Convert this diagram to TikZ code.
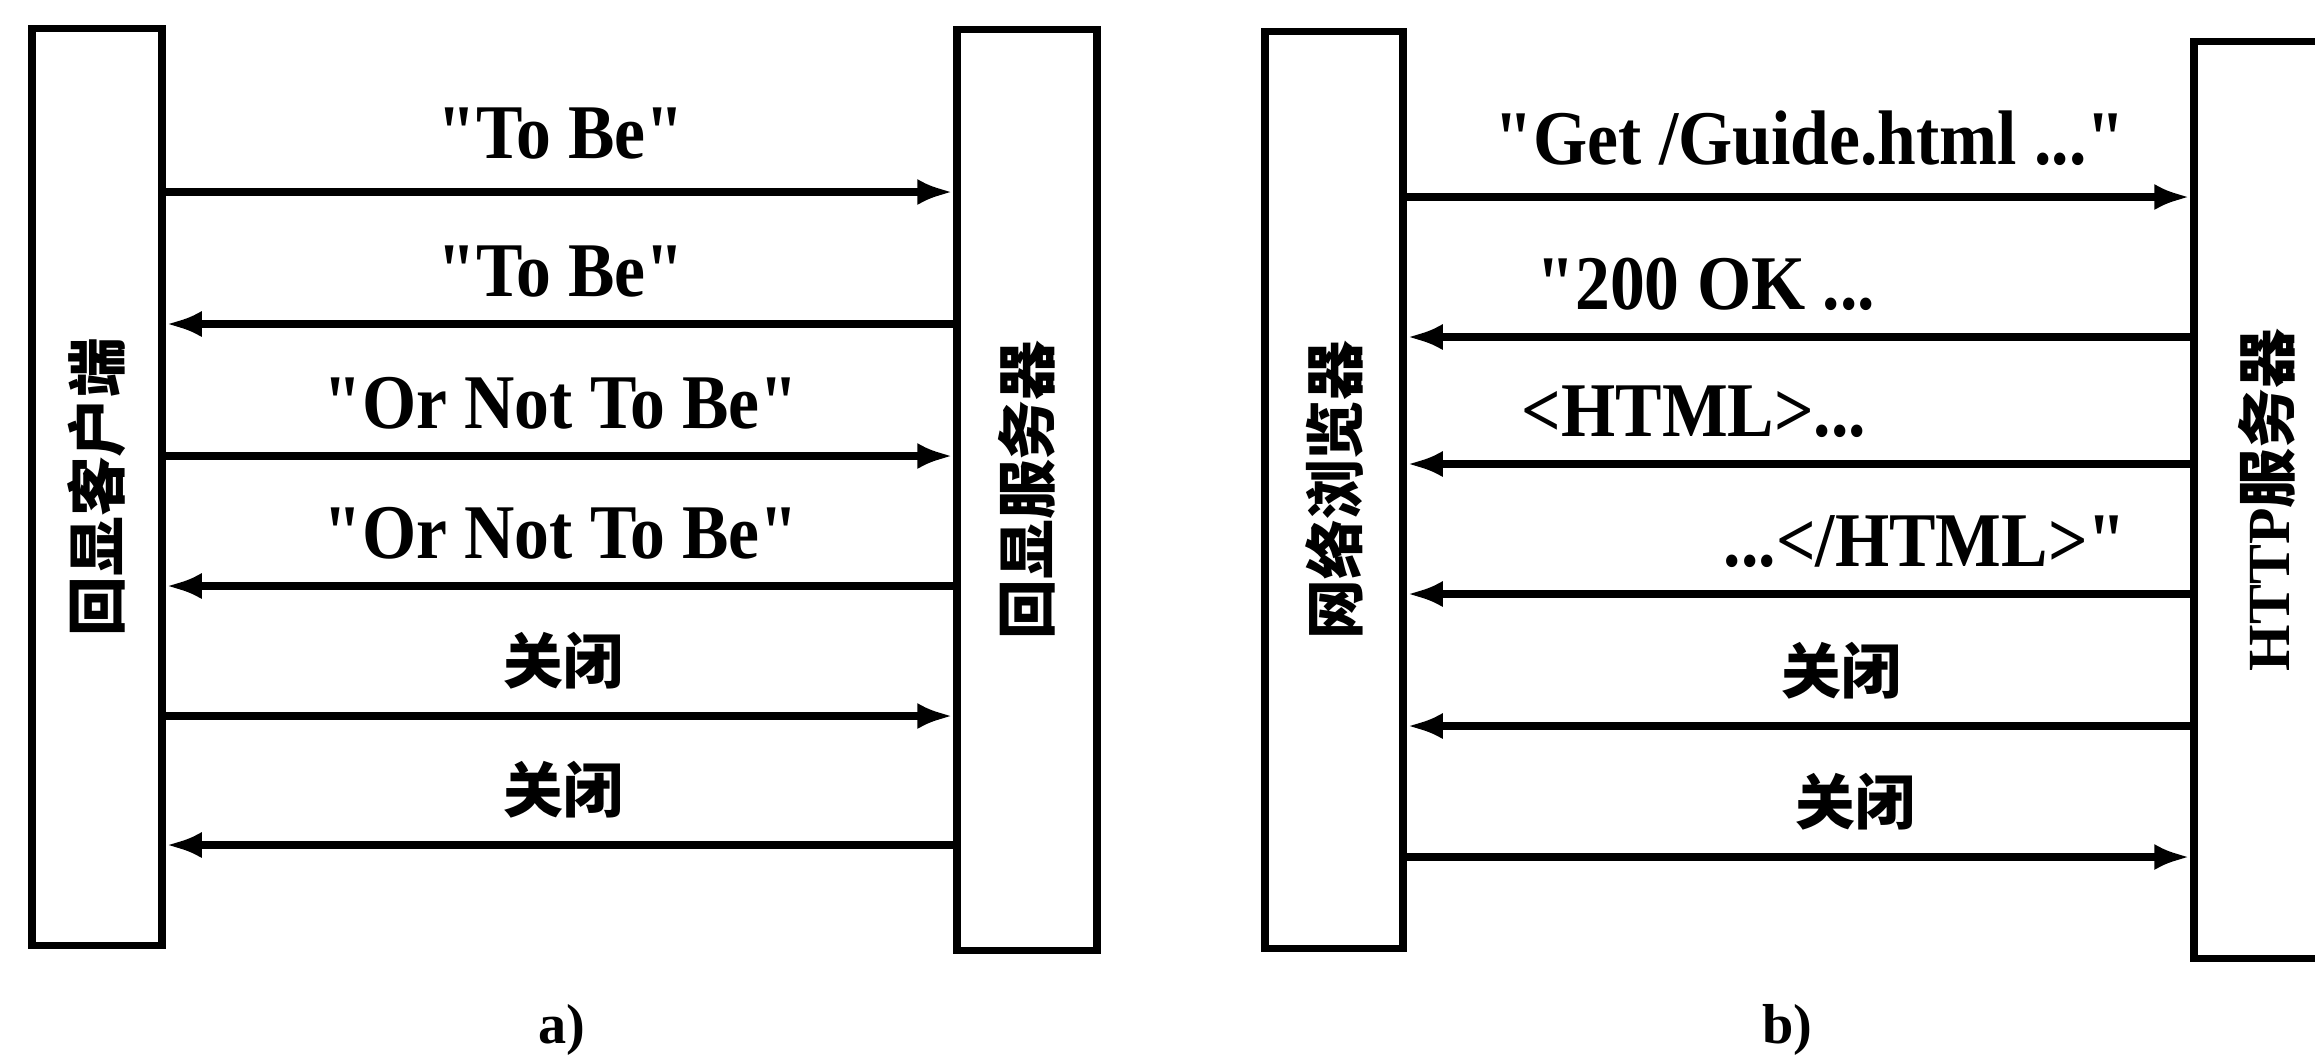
\documentclass[tikz,border=0pt]{standalone}
\usepackage{fontspec}
\usepackage{graphicx}
\setmainfont{Liberation Serif}
\newfontfamily\lab{Liberation Serif}[FakeStretch=0.9]
\newfontfamily\cjk{Noto Sans CJK SC}
\usetikzlibrary{arrows.meta,calc}
\tikzset{
  box/.style={draw, line width=2.1pt, inner sep=0pt, font=\fontsize{17pt}{20pt}\selectfont\cjk\bfseries},
  msg/.style={line width=2.2pt, -{Latex[length=3.6mm,width=2.6mm]}},
  txt/.style={anchor=base, inner sep=0pt, font=\fontsize{22pt}{26pt}\selectfont\lab\bfseries},
  zh/.style={anchor=base, inner sep=0pt, font=\fontsize{17pt}{20pt}\selectfont\cjk\bfseries},
  subcap/.style={inner sep=0pt, font=\fontsize{16pt}{19pt}\selectfont\bfseries}
}

\begin{document}
\begin{tikzpicture}[x=0.01cm, y=-0.01cm]
		%%%%% START %%%%%
		\useasboundingbox (0,0) rectangle (2315,1056);
		\clip (0,0) rectangle (2315,1056);
		
		% a) echo client / echo server
		\node[box, minimum width=1.30cm, minimum height=9.17cm] (cli) at (97,487) {\rotatebox{90}{回显客户端}};
		\node[box, minimum width=1.40cm, minimum height=9.20cm] (srv) at (1027,490) {\rotatebox{90}{回显服务器}};
		
		\coordinate (a1) at (0,192);
		\coordinate (a2) at (0,324);
		\coordinate (a3) at (0,456);
		\coordinate (a4) at (0,586);
		\coordinate (a5) at (0,716);
		\coordinate (a6) at (0,845);
		
		\node[txt] (ta1) at (561,158) {"To Be"};
		\node[txt] (ta2) at (561,296) {"To Be"};
		\node[txt] (ta3) at (561,428) {"Or Not To Be"};
		\node[txt] (ta4) at (561,558) {"Or Not To Be"};
		\node[zh] (ta5) at (563,683) {关闭};
		\node[zh] (ta6) at (563,812) {关闭};
		
		\draw[msg] (cli.east |- a1) -- (srv.west |- a1);
		\draw[msg] (srv.west |- a2) -- (cli.east |- a2);
		\draw[msg] (cli.east |- a3) -- (srv.west |- a3);
		\draw[msg] (srv.west |- a4) -- (cli.east |- a4);
		\draw[msg] (cli.east |- a5) -- (srv.west |- a5);
		\draw[msg] (srv.west |- a6) -- (cli.east |- a6);
		
		\node[subcap] (capa) at (562,1030) {a)};
		
		% b) web browser / HTTP server
		\node[box, minimum width=1.38cm, minimum height=9.16cm] (bro) at (1334,490) {\rotatebox{90}{网络浏览器}};
		\node[box, minimum width=1.46cm, minimum height=9.17cm] (web) at (2267,500) {\rotatebox{90}{{\rmfamily HTTP}服务器}};
		
		\coordinate (b1) at (0,197);
		\coordinate (b2) at (0,337);
		\coordinate (b3) at (0,464);
		\coordinate (b4) at (0,594);
		\coordinate (b5) at (0,726);
		\coordinate (b6) at (0,857);
		
		\node[txt] (tb1) at (1810,164) {"Get /Guide.html ..."};
		\node[txt, anchor=base west] (tb2) at (1536,309) {"200 OK ...};
		\node[txt, anchor=base west] (tb3) at (1521,436) {<HTML>...};
		\node[txt, anchor=base east] (tb4) at (2127,566) {...</HTML>"};
		\node[zh] (tb5) at (1841,693) {关闭};
		\node[zh] (tb6) at (1855,824) {关闭};
		
		\draw[msg] (bro.east |- b1) -- (web.west |- b1);
		\draw[msg] (web.west |- b2) -- (bro.east |- b2);
		\draw[msg] (web.west |- b3) -- (bro.east |- b3);
		\draw[msg] (web.west |- b4) -- (bro.east |- b4);
		\draw[msg] (web.west |- b5) -- (bro.east |- b5);
		\draw[msg] (bro.east |- b6) -- (web.west |- b6);
		
		\node[subcap] (capb) at (1787,1030) {b)};
		
		%%%%% END %%%%%
\end{tikzpicture}
\end{document}
